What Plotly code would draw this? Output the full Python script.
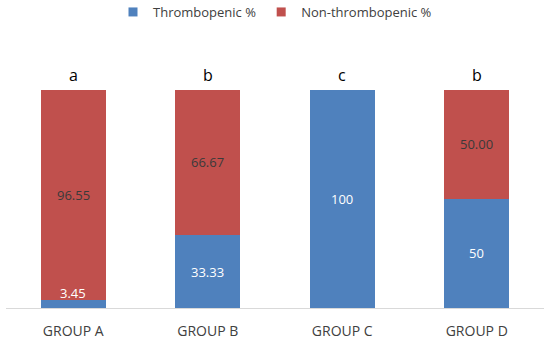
import plotly.graph_objects as go

groups = ["GROUP A", "GROUP B", "GROUP C", "GROUP D"]
thrombo = [3.45, 33.33, 100, 50]
non_thrombo = [96.55, 66.67, 0, 50]
thrombo_labels = ["3.45", "33.33", "100", "50"]
non_thrombo_labels = ["96.55", "66.67", "", "50.00"]
sig_letters = ["a", "b", "c", "b"]
series_names = ["Thrombopenic %", "Non-thrombopenic %"]

BLUE = "#4F81BD"
RED = "#C0504D"
FONT = "Open Sans"

fig = go.Figure()
fig.add_trace(go.Bar(x=groups, y=thrombo, name=series_names[0], marker_color=BLUE,
                     marker_line_width=0, showlegend=False))
fig.add_trace(go.Bar(x=groups, y=non_thrombo, name=series_names[1], marker_color=RED,
                     marker_line_width=0, showlegend=False))
# legend entries with small square swatches
for nm, col in zip(series_names, [BLUE, RED]):
    fig.add_trace(go.Scatter(x=[None], y=[None], mode="markers", name=nm,
                             marker=dict(symbol="square", size=9, color=col)))

ann = []
for g, t, n, tl, nl, s in zip(groups, thrombo, non_thrombo, thrombo_labels, non_thrombo_labels, sig_letters):
    ty = max(t / 2, 7)
    ann.append(dict(x=g, y=ty, text=tl, showarrow=False, font=dict(color="white", size=13, family=FONT)))
    if nl:
        ann.append(dict(x=g, y=t + n / 2, text=nl, showarrow=False, font=dict(color="#3A3A3A", size=13, family=FONT)))
    ann.append(dict(x=g, y=t + n, text=s, showarrow=False, yshift=15, yanchor="middle",
                    font=dict(color="black", size=16, family=FONT)))

fig.update_layout(
    barmode="stack",
    bargap=0.515,
    width=550, height=342,
    margin=dict(l=6, r=6, t=46, b=34, autoexpand=False),
    plot_bgcolor="white", paper_bgcolor="white",
    font=dict(family=FONT, size=13, color="#404040"),
    legend=dict(orientation="h", x=0.5, xanchor="center", y=(308 - 12) / 262, yanchor="middle",
                font=dict(size=13, color="#404040"), traceorder="normal", itemwidth=30,
                tracegroupgap=0),
    annotations=ann,
    showlegend=True,
)
fig.update_xaxes(showline=True, linecolor="#D9D9D9", linewidth=1, ticks="", automargin=False,
                 ticklabelstandoff=10, tickfont=dict(size=14, color="#404040"))
fig.update_yaxes(range=[0, 120], visible=False, showgrid=False, automargin=False)

fig.write_html("out.html", config={"displayModeBar": False},
               post_script="document.body.style.margin='0';")
